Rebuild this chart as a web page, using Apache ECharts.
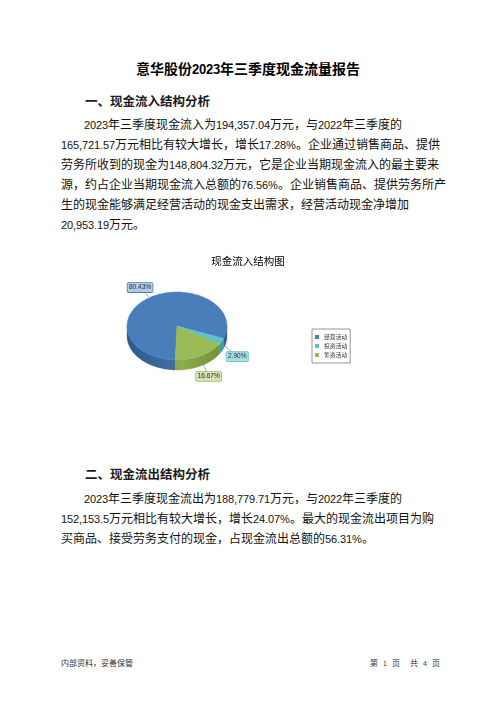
<!DOCTYPE html>
<html>
<head>
<meta charset="utf-8">
<script src="https://cdn.jsdelivr.net/npm/echarts@6/dist/echarts.min.js"></script>
<style>
@font-face { font-family: "NumLatin"; src: local("Liberation Sans"); size-adjust: 92%; unicode-range: U+0000-00FF; font-weight: normal; }
@font-face { font-family: "NumLatin"; src: local("Liberation Sans Bold"); size-adjust: 92%; unicode-range: U+0000-00FF; font-weight: bold; }
html, body { margin: 0; padding: 0; background: #fff; }
body { width: 496px; height: 702px; position: relative; overflow: hidden;
  font-family: "NumLatin", "Noto Sans CJK SC", sans-serif; color: #111; }
.abs { position: absolute; white-space: nowrap; }
.title { left: 0; width: 496px; top: 60px; line-height: 20px; text-align: center; font-size: 14px; font-weight: bold; color: #000; }
.head { left: 85px; line-height: 20px; font-size: 12.5px; font-weight: bold; color: #1a1a1a; }
.para { left: 61px; font-size: 12px; line-height: 20px; }
.para .first { text-indent: 23px; }
.foot { top: 657px; line-height: 14px; font-size: 8px; color: #333; }
#chart { position: absolute; left: 98px; top: 235px; width: 300px; height: 180px; }
</style>
</head>
<body>
<div class="abs title">意华股份2023年三季度现金流量报告</div>

<div class="abs head" style="top:92px">一、现金流入结构分析</div>
<div class="abs para" style="top:115px">
  <div class="first">2023年三季度现金流入为194,357.04万元，与2022年三季度的</div>
  <div>165,721.57万元相比有较大增长，增长17.28%。企业通过销售商品、提供</div>
  <div>劳务所收到的现金为148,804.32万元，它是企业当期现金流入的最主要来</div>
  <div>源，约占企业当期现金流入总额的76.56%。企业销售商品、提供劳务所产</div>
  <div>生的现金能够满足经营活动的现金支出需求，经营活动现金净增加</div>
  <div>20,953.19万元。</div>
</div>

<div id="chart"></div>

<div class="abs head" style="top:465px">二、现金流出结构分析</div>
<div class="abs para" style="top:489px">
  <div class="first">2023年三季度现金流出为188,779.71万元，与2022年三季度的</div>
  <div>152,153.5万元相比有较大增长，增长24.07%。最大的现金流出项目为购</div>
  <div>买商品、接受劳务支付的现金，占现金流出总额的56.31%。</div>
</div>

<div class="abs foot" style="left:61px">内部资料，妥善保管</div>
<div class="abs foot" style="left:370px; word-spacing:3px; white-space:pre">第 1 页  共 4 页</div>

<script>
// 现金流入结构 (%)
var categories = ['经营活动', '投资活动', '筹资活动'];
var shares = [80.43, 2.90, 16.67];

// 颜色：顶面 / 侧面 / 标签底色
var palette = [
    { top: '#4a7ebb', side: '#2f5a8c', sideLight: '#4372a8', tag: '#b4c9e4' },
    { top: '#5cc4c8', side: '#3a9aa2', sideLight: '#4fb4ba', tag: '#a8e0e0' },
    { top: '#9bbb59', side: '#6f8b36', sideLight: '#8eac4c', tag: '#d3e3b0' }
];

// 饼图位置 (相对于图表容器)
var PIE = { cx: 79, cy: 91, rx: 50, ry: 34, depth: 10, start: 92 };

var initInflowChart = function () {
    var total = 0;
    var before = [];
    $each(shares, function (v) {
        before.push(total);
        total += v;
    });

    var pt = function (deg, k, dy) {
        var r = deg * Math.PI / 180;
        return [PIE.cx + PIE.rx * k * Math.cos(r), PIE.cy + PIE.ry * k * Math.sin(r) + (dy || 0)];
    };
    var arc = function (a, b, dy) {
        var pts = [];
        var n = Math.max(2, Math.ceil(Math.abs(b - a) / 2));
        for (var i = 0; i <= n; i++) {
            pts.push(pt(a + (b - a) * i / n, 1, dy));
        }
        return pts;
    };

    var renderSlice = function (idx) {
        return function (params, api) {
            var value = api.value(0);
            var a1 = PIE.start + api.value(1) / api.value(2) * 360;
            var a2 = a1 + value / api.value(2) * 360;
            var c = palette[idx];
            var children = [];

            // 侧面 (只画前半圈)
            [0, 360].forEach(function (k) {
                var lo = Math.max(a1, k), hi = Math.min(a2, k + 180);
                if (lo < hi) {
                    var pts = arc(lo, hi, 0).concat(arc(hi, lo, PIE.depth));
                    children.push({
                        type: 'polygon', z2: 1,
                        shape: { points: pts },
                        style: {
                            fill: new echarts.graphic.LinearGradient(PIE.cx - PIE.rx, 0, PIE.cx + PIE.rx, 0, [
                                { offset: 0, color: c.side },
                                { offset: 0.55, color: c.sideLight },
                                { offset: 1, color: c.side }
                            ], true),
                            stroke: c.side, lineWidth: 0.3
                        }
                    });
                }
            });

            // 顶面
            children.push({
                type: 'polygon', z2: 2,
                shape: { points: [[PIE.cx, PIE.cy]].concat(arc(a1, a2, 0)) },
                style: { fill: api.visual('color'), stroke: api.visual('color'), lineWidth: 0.4 }
            });

            // 标签
            var mid = (a1 + a2) / 2;
            var front = Math.sin(mid * Math.PI / 180) > 0;
            var edge = pt(mid, 1, front ? 2 : 0);
            var pos = pt(mid, 1.35, front ? PIE.depth : 0);
            children.push({
                type: 'line', z2: 3,
                shape: { x1: edge[0], y1: edge[1], x2: pos[0], y2: pos[1] },
                style: { stroke: '#8a8a8a', lineWidth: 0.7 }
            });
            children.push({
                type: 'text', z2: 4,
                x: pos[0], y: pos[1],
                style: {
                    text: value.toFixed(2) + '%',
                    fontSize: 6.5,
                    fontFamily: 'Liberation Sans',
                    fill: '#1f2a3a',
                    align: 'center',
                    verticalAlign: 'middle',
                    backgroundColor: c.tag,
                    borderColor: api.visual('color'),
                    borderWidth: 0.8,
                    borderRadius: 1,
                    padding: [1, 1.5]
                }
            });
            return { type: 'group', children: children };
        };
    };

    var series = [];
    $each(categories, function (name, i) {
        series.push({
            name: name,
            type: 'custom',
            coordinateSystem: 'none',
            itemStyle: { color: palette[i].top },
            data: [[shares[i], before[i], total]],
            renderItem: renderSlice(i)
        });
    });

    var options = {
        animation: false,
        title: {
            text: '现金流入结构图',
            left: 'center',
            top: 16,
            textStyle: { fontSize: 10.5, fontWeight: 'normal', color: '#000', fontFamily: 'Noto Sans CJK SC' }
        },
        legend: {
            orient: 'vertical',
            left: 214,
            top: 94,
            padding: [5, 3],
            itemWidth: 4,
            itemHeight: 4,
            itemGap: 3,
            itemTextGap: 2,
            icon: 'rect',
            borderColor: '#7f7f7f',
            borderWidth: 0.8,
            textStyle: { fontSize: 5.8, color: '#333', fontFamily: 'Noto Sans CJK SC', lineHeight: 6 },
            data: categories
        },
        series: series
    };
    var chart = echarts.init(document.getElementById('chart'));
    chart.setOption(options);
};

function $each(arr, fn) {
    for (var i = 0; i < arr.length; i++) fn(arr[i], i);
}

initInflowChart();
</script>
</body>
</html>
